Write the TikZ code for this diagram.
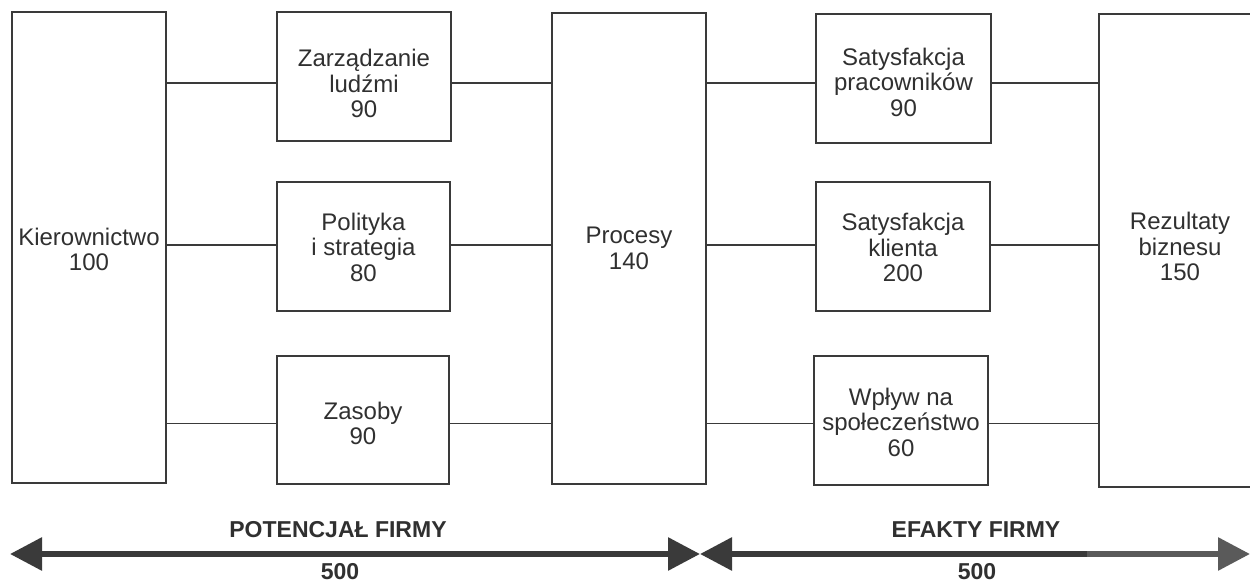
\documentclass[tikz,border=0pt]{standalone}
\usepackage{fontspec}
\setmainfont{Liberation Sans}
\usetikzlibrary{arrows.meta}
\definecolor{ink}{HTML}{303030}
\definecolor{linec}{HTML}{3A3A3A}
\definecolor{arrowlight}{HTML}{5A5A5A}
\newcommand{\bt}[2][0pt]{\raisebox{#1}[\height][\depth]{\begin{tabular}{@{}c@{}}#2\end{tabular}}}
\begin{document}
\begin{tikzpicture}[x=0.5pt,y=-0.5pt,
  box/.style={draw=linec, line width=0.9pt, fill=white, rectangle, inner sep=0pt,
    text=ink, font=\fontsize{12}{12.75}\selectfont},
  conn/.style={draw=linec, line width=0.9pt},
  bigarrow/.style={line width=3pt, draw=linec},
  tipA/.tip={Triangle[length=16pt,width=16pt]},
  lbl/.style={font=\bfseries\fontsize{11.5}{13}\selectfont, text=ink, inner sep=0pt}]
\clip (0,0) rectangle (1250,583);
\fill[white] (0,0) rectangle (1250,583);
% boxes
\node[box, minimum width=77pt, minimum height=235.5pt] (kier) at (89,247.5) {\bt[-2.75pt]{Kierownictwo\\100}};
\node[box, minimum width=87pt, minimum height=64.5pt] (zar) at (364,76.5) {\bt[-5.25pt]{Zarządzanie\\ludźmi\\90}};
\node[box, minimum width=86.5pt, minimum height=64.5pt] (pol) at (363.5,246.5) {\bt[-2pt]{Polityka\\i strategia\\80}};
\node[box, minimum width=86pt, minimum height=64pt] (zas) at (363,420) {\bt[-3.5pt]{Zasoby\\90}};
\node[box, minimum width=77pt, minimum height=235.5pt] (proc) at (629,248.5) {\bt[-1.5pt]{Procesy\\140}};
\node[box, minimum width=87.5pt, minimum height=64.5pt] (sp) at (903.5,78.5) {\bt[-3.5pt]{Satysfakcja\\pracowników\\90}};
\node[box, minimum width=87pt, minimum height=64.5pt] (sk) at (903,246.5) {\bt[-2.25pt]{Satysfakcja\\klienta\\200}};
\node[box, minimum width=87pt, minimum height=64.5pt] (wp) at (901,420.5) {\bt[-2.5pt]{Wpływ na\\społeczeństwo\\60}};
\node[box, minimum width=81pt, minimum height=236.5pt] (rez) at (1180,250.5) {\bt[0.25pt]{Rezultaty\\biznesu\\150}};
% connector rows
\coordinate (r1) at (0,83);
\coordinate (r2) at (0,245);
\coordinate (r3) at (0,423.5);
\draw[conn] (kier.east |- r1) -- (zar.west |- r1);
\draw[conn] (zar.east |- r1) -- (proc.west |- r1);
\draw[conn] (proc.east |- r1) -- (sp.west |- r1);
\draw[conn] (sp.east |- r1) -- (rez.west |- r1);
\draw[conn] (kier.east |- r2) -- (pol.west |- r2);
\draw[conn] (pol.east |- r2) -- (proc.west |- r2);
\draw[conn] (proc.east |- r2) -- (sk.west |- r2);
\draw[conn] (sk.east |- r2) -- (rez.west |- r2);
\draw[conn] (kier.east |- r3) -- (zas.west |- r3);
\draw[conn] (zas.east |- r3) -- (proc.west |- r3);
\draw[conn] (proc.east |- r3) -- (wp.west |- r3);
\draw[conn] (wp.east |- r3) -- (rez.west |- r3);
% bottom arrows
\coordinate (pl) at (10,554);
\coordinate (pm) at (700,554);
\coordinate (pc) at (1087,554);
\coordinate (pr) at (1250,554);
\draw[bigarrow, tipA-tipA] (pl) -- (pm);
\draw[bigarrow, tipA-] (pm) -- (pc);
\draw[bigarrow, draw=arrowlight, -tipA] (pc) -- (pr);
% labels
\node[lbl] (pot) at (338,530) {POTENCJAŁ FIRMY};
\node[lbl] (pv) at (340,572) {500};
\node[lbl] (ef) at (976,530) {EFAKTY FIRMY};
\node[lbl] (ev) at (977,572) {500};
\end{tikzpicture}
\end{document}
